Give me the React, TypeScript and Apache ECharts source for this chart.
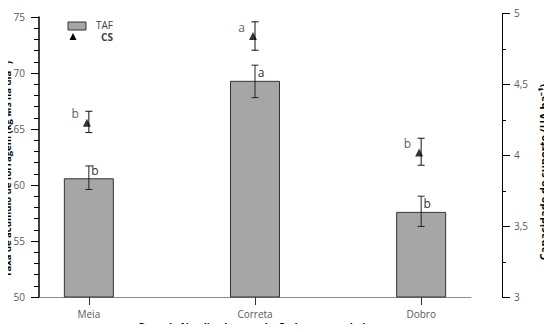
import React, { useEffect, useRef } from "react";
import * as echarts from "echarts";

const categories = ["Meia", "Correta", "Dobro"];
const positions = [1, 2, 3];
const tafValues = [60.6, 69.3, 57.6];
const tafLow = [59.6, 67.8, 56.3];
const tafHigh = [61.7, 70.7, 59.0];
const tafLetters = ["b", "a", "b"];
const csValues = [4.23, 4.84, 4.02];
const csLow = [4.16, 4.74, 3.93];
const csHigh = [4.31, 4.94, 4.12];
const csLetters = ["b", "a", "b"];

const FONT = "'Open Sans', sans-serif";

function errorRender(color: string, cap: number) {
  return (params: any, api: any) => {
    const x = api.value(0);
    const top = api.coord([x, api.value(2)]);
    const bot = api.coord([x, api.value(1)]);
    const st = { stroke: color, lineWidth: 1 };
    return {
      type: "group",
      children: [
        { type: "line", shape: { x1: top[0], y1: top[1], x2: bot[0], y2: bot[1] }, style: st },
        { type: "line", shape: { x1: top[0] - cap, y1: top[1], x2: top[0] + cap, y2: top[1] }, style: st },
        { type: "line", shape: { x1: bot[0] - cap, y1: bot[1], x2: bot[0] + cap, y2: bot[1] }, style: st },
      ],
    };
  };
}

export default function App() {
  const ref = useRef<HTMLDivElement>(null);
  useEffect(() => {
    const chart = echarts.init(ref.current!, null, { renderer: "svg" });
    const xCommon = {
      type: "value",
      min: 0.7,
      max: 3.3,
    };
    chart.setOption({
      animation: false,
      textStyle: { fontFamily: FONT },
      grid: [
        { left: 39, right: 81, top: 17, bottom: 35, containLabel: false, outerBoundsMode: "none" },
        { left: 39, right: 81, top: 13.3, bottom: 34.7, containLabel: false, outerBoundsMode: "none" },
      ],
      xAxis: [
        {
          ...xCommon,
          gridIndex: 0,
          splitLine: { show: false },
          axisLine: { show: true, lineStyle: { color: "#8c8c8c", width: 1 } },
          axisTick: { show: true, customValues: positions, length: 8, lineStyle: { color: "#333" } },
          axisLabel: {
            customValues: positions,
            formatter: (v: number) => categories[Math.round(v) - 1] ?? "",
            color: "#595959",
            fontSize: 10,
            margin: 12,
            fontFamily: FONT,
          },
          name: "Dose de N aplicada em relação à recomendada",
          nameLocation: "middle",
          nameGap: 24,
          nameMoveOverlap: false,
          nameTextStyle: { fontWeight: "bold", fontSize: 10, lineHeight: 11, color: "#000", fontFamily: FONT },
        },
        {
          ...xCommon,
          gridIndex: 1,
          show: false,
        },
      ],
      yAxis: [
        {
          type: "value",
          gridIndex: 0,
          min: 50,
          max: 75,
          interval: 5,
          splitLine: { show: false },
          axisLine: { show: true, lineStyle: { color: "#000", width: 1.5 } },
          axisTick: { show: true, length: 8, lineStyle: { color: "#000" } },
          minorTick: { show: true, splitNumber: 5, length: 5, lineStyle: { color: "#000" } },
          axisLabel: { color: "#595959", fontSize: 10, margin: 14, fontFamily: FONT },
        },
        {
          type: "value",
          gridIndex: 1,
          position: "right",
          offset: 31,
          min: 3,
          max: 5,
          interval: 0.5,
          splitLine: { show: false },
          axisLine: { show: true, lineStyle: { color: "#000", width: 1 } },
          axisTick: { show: true, length: 8, lineStyle: { color: "#000" } },
          minorTick: { show: true, splitNumber: 2, length: 4, lineStyle: { color: "#000" } },
          axisLabel: {
            color: "#595959",
            fontSize: 10,
            margin: 12,
            fontFamily: FONT,
            formatter: (v: number) => String(v).replace(".", ","),
          },
        },
      ],
      graphic: [
        {
          type: "text",
          x: 7,
          y: 169,
          rotation: Math.PI / 2,
          style: {
            text: "Taxa de acúmulo de forragem (kg MS ha dia⁻¹)",
            fontSize: 9.5,
            fontWeight: "bold",
            fontFamily: FONT,
            fill: "#000",
            align: "center",
            verticalAlign: "middle",
          },
        },
        {
          type: "text",
          x: 543,
          y: 172,
          rotation: Math.PI / 2,
          style: {
            text: "Capacidade de suporte (UA ha⁻¹)",
            fontSize: 11,
            fontWeight: "bold",
            fontFamily: FONT,
            fill: "#000",
            align: "center",
            verticalAlign: "middle",
          },
        },
        {
          type: "rect",
          shape: { x: 68, y: 22, width: 18, height: 8 },
          style: { fill: "#a6a6a6", stroke: "#333", lineWidth: 1 },
        },
        {
          type: "polygon",
          shape: { points: [[73, 33], [69.5, 40], [76.5, 40]] },
          style: { fill: "#000" },
        },
        {
          type: "text",
          x: 113,
          y: 24.5,
          style: { text: "TAF", fontSize: 10, lineHeight: 10, fontFamily: FONT, fill: "#404040", align: "right", verticalAlign: "middle" },
        },
        {
          type: "text",
          x: 113,
          y: 37,
          style: { text: "CS", fontSize: 10, lineHeight: 10, fontWeight: "bold", fontFamily: FONT, fill: "#404040", align: "right", verticalAlign: "middle" },
        },
      ],
      series: [
        {
          name: "TAF",
          type: "bar",
          xAxisIndex: 0,
          yAxisIndex: 0,
          barWidth: 50,
          data: positions.map((p, i) => [p, tafValues[i]]),
          itemStyle: { color: "#a6a6a6", borderColor: "#333", borderWidth: 1 },
          label: {
            show: true,
            position: "top",
            distance: 2,
            offset: [6, 0],
            formatter: (p: any) => tafLetters[p.dataIndex],
            fontSize: 12,
            color: "#333",
            fontFamily: FONT,
          },
          z: 2,
        },
        {
          name: "TAF erro",
          type: "custom",
          xAxisIndex: 0,
          yAxisIndex: 0,
          renderItem: errorRender("#222", 3.5),
          encode: { x: 0, y: [1, 2] },
          data: positions.map((p, i) => [p, tafLow[i], tafHigh[i]]),
          z: 5,
        },
        {
          name: "CS erro",
          type: "custom",
          xAxisIndex: 1,
          yAxisIndex: 1,
          renderItem: errorRender("#111", 3.5),
          encode: { x: 0, y: [1, 2] },
          data: positions.map((p, i) => [p, csLow[i], csHigh[i]]),
          z: 5,
        },
        {
          name: "CS",
          type: "scatter",
          xAxisIndex: 1,
          yAxisIndex: 1,
          symbol: "triangle",
          symbolSize: 8,
          symbolOffset: [-2, 0],
          itemStyle: { color: "#000" },
          data: positions.map((p, i) => [p, csValues[i]]),
          label: {
            show: true,
            position: "left",
            distance: 4,
            offset: [0, -9],
            formatter: (p: any) => csLetters[p.dataIndex],
            fontSize: 12,
            color: "#333",
            fontFamily: FONT,
          },
          z: 6,
        },
      ],
    });
    return () => chart.dispose();
  }, []);
  return <div ref={ref} style={{ width: 552, height: 332, margin: -8 }} />;
}
